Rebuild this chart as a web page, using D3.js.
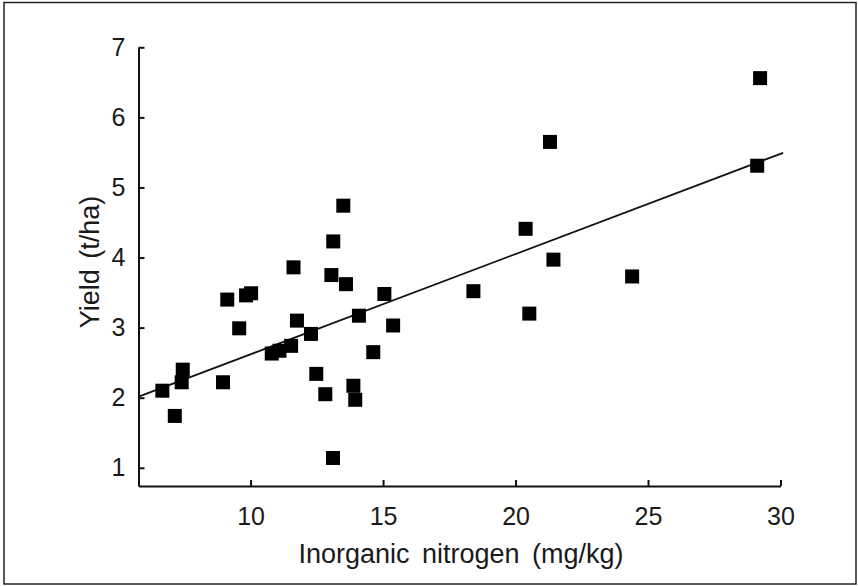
<!DOCTYPE html>
<html>
<head>
<meta charset="utf-8">
<script src="https://cdn.jsdelivr.net/npm/d3@7"></script>
<style>
  body { margin: 0; background: #fff; }
  svg text { font-family: Arial, "Liberation Sans", sans-serif; fill: #1a1a1a; }
</style>
</head>
<body>
<svg id="chart" width="858" height="586"></svg>
<script>
// inorganic nitrogen (mg/kg) vs yield (t/ha)
const nitrogen = [13.50, 13.12, 11.62, 13.05, 13.60, 9.12, 9.83, 10.02, 15.05, 9.57,
  11.75, 14.09, 15.38, 12.28, 14.63, 11.53, 11.09, 10.80, 7.44, 7.40,
  6.67, 7.14, 8.96, 12.48, 12.82, 13.88, 13.95, 13.11, 21.30, 29.12,
  20.38, 21.43, 18.41, 24.40, 20.52, 29.23];
const yieldVals = [4.74, 4.23, 3.86, 3.75, 3.62, 3.40, 3.46, 3.49, 3.48, 2.99,
  3.10, 3.17, 3.03, 2.91, 2.65, 2.74, 2.67, 2.63, 2.40, 2.22,
  2.10, 1.74, 2.22, 2.34, 2.05, 2.17, 1.97, 1.14, 5.65, 5.31,
  4.41, 3.97, 3.52, 3.73, 3.20, 6.56];

// fitted line
const fitIntercept = 1.19;
const fitSlope = 0.143;
const fitRange = [5.8, 30.1];

const xTicks = [10, 15, 20, 25, 30];
const yTicks = [1, 2, 3, 4, 5, 6, 7];

const svg = d3.select("#chart");

// outer frame
svg.append("rect")
    .attr("x", 4).attr("y", 2.5)
    .attr("width", 852).attr("height", 581.5)
    .attr("fill", "none")
    .attr("stroke", "#222")
    .attr("stroke-width", 1.5);

const x = d3.scaleLinear().domain([5.77, 30]).range([138.5, 780.5]);
const y = d3.scaleLinear().domain([0.74, 7]).range([486, 47.3]);

const xAxis = svg.append("g")
    .attr("transform", "translate(0,486)")
    .call(d3.axisBottom(x).tickValues(xTicks).tickFormat(d3.format("d"))
      .tickSizeInner(-6).tickSizeOuter(0).tickPadding(21));

const yAxis = svg.append("g")
    .attr("transform", "translate(138.5,0)")
    .call(d3.axisLeft(y).tickValues(yTicks).tickFormat(d3.format("d"))
      .tickSizeInner(-6).tickSizeOuter(0).tickPadding(13));

[xAxis, yAxis].forEach(g => {
  g.selectAll("path, line").attr("stroke", "#111").attr("stroke-width", 2);
  g.selectAll("text").attr("font-size", 25).attr("fill", "#1a1a1a")
    .style("font-family", "Arial, 'Liberation Sans', sans-serif");
});

// regression line
svg.append("line")
    .attr("x1", x(fitRange[0])).attr("y1", y(fitIntercept + fitSlope * fitRange[0]))
    .attr("x2", x(fitRange[1])).attr("y2", y(fitIntercept + fitSlope * fitRange[1]))
    .attr("stroke", "#111")
    .attr("stroke-width", 1.8);

// points
const size = 14;
svg.selectAll("rect.pt")
  .data(nitrogen.map((n, i) => ({ n, v: yieldVals[i] })))
  .join("rect")
    .attr("class", "pt")
    .attr("x", d => x(d.n) - size / 2)
    .attr("y", d => y(d.v) - size / 2)
    .attr("width", size)
    .attr("height", size)
    .attr("fill", "#000");

// axis titles
svg.append("text")
    .attr("x", 461).attr("y", 563)
    .attr("text-anchor", "middle")
    .attr("font-size", 27)
    .style("word-spacing", "5px")
    .text("Inorganic nitrogen (mg/kg)");

svg.append("text")
    .attr("transform", "translate(99,262) rotate(-90)")
    .attr("text-anchor", "middle")
    .attr("font-size", 27)
    .style("word-spacing", "3px")
    .text("Yield (t/ha)");
</script>
</body>
</html>
